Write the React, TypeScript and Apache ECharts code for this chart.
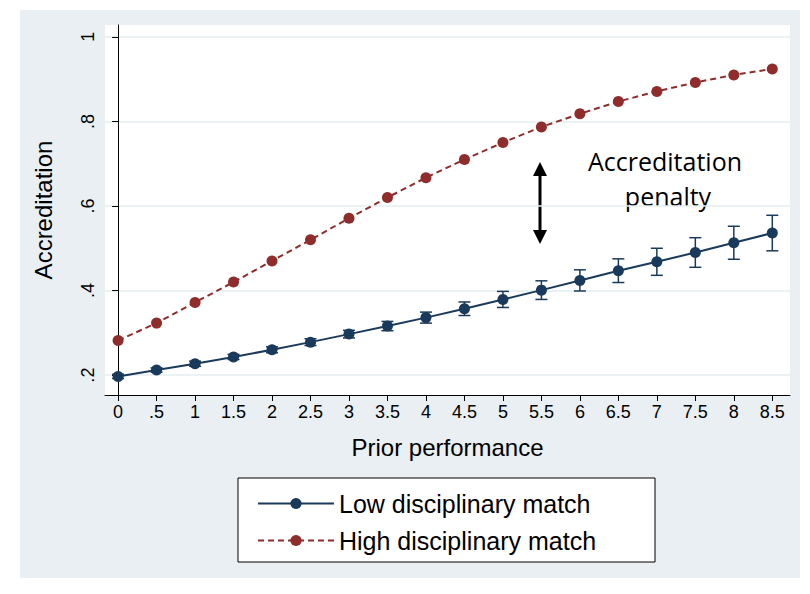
import React, { useEffect, useRef } from 'react';
import * as echarts from 'echarts';

const xValues = [0, 0.5, 1, 1.5, 2, 2.5, 3, 3.5, 4, 4.5, 5, 5.5, 6, 6.5, 7, 7.5, 8, 8.5];
const lowMatch = [0.197, 0.212, 0.227, 0.243, 0.26, 0.278, 0.297, 0.316, 0.336, 0.357, 0.379, 0.401, 0.424, 0.447, 0.468, 0.49, 0.513, 0.536];
const lowErr = [0.005, 0.005, 0.006, 0.006, 0.007, 0.008, 0.009, 0.011, 0.013, 0.016, 0.019, 0.022, 0.025, 0.028, 0.032, 0.035, 0.039, 0.042];
const highMatch = [0.282, 0.323, 0.372, 0.42, 0.47, 0.52, 0.571, 0.62, 0.667, 0.71, 0.75, 0.787, 0.818, 0.847, 0.871, 0.892, 0.91, 0.924];
const yTicks = [0.2, 0.4, 0.6, 0.8, 1];

const fmt = (v: number) => {
  const s = String(Math.round(v * 10) / 10);
  return s.startsWith('0.') ? s.slice(1) : s;
};

const App: React.FC = () => {
  const chartRef = useRef<HTMLDivElement | null>(null);

  useEffect(() => {
    if (!chartRef.current) return;
    const chart = echarts.init(chartRef.current, undefined, { renderer: 'svg' });
    const font = 'Liberation Sans, Arial, sans-serif';
    const blue = '#1a3a5c';
    const red = '#8f2d2d';

    chart.setOption({
      animation: false,
      textStyle: { fontFamily: font },
      graphic: [
        { type: 'rect', z: -10, shape: { x: 20, y: 10, width: 780, height: 568 }, style: { fill: '#e9eff3' } },
        { type: 'line', shape: { x1: 540, y1: 168, x2: 540, y2: 238 }, style: { stroke: '#000', lineWidth: 3 } },
        { type: 'polygon', shape: { points: [[533, 176], [540, 162], [547, 176]] }, style: { fill: '#000' } },
        { type: 'polygon', shape: { points: [[533, 230], [540, 244], [547, 230]] }, style: { fill: '#000' } },
        { type: 'text', x: 665, y: 161, style: { text: 'Accreditation', fontSize: 25, fontFamily: 'Open Sans, sans-serif', fill: '#000', align: 'center', verticalAlign: 'middle' } },
        { type: 'text', x: 668, y: 196, style: { text: 'penalty', fontSize: 25, fontFamily: 'Open Sans, sans-serif', fill: '#000', align: 'center', verticalAlign: 'middle' } },
        { type: 'rect', shape: { x: 238, y: 478, width: 417, height: 84 }, style: { fill: '#fff', stroke: '#000', lineWidth: 1 } },
      ],
      legend: {
        left: 252, top: 486, orient: 'vertical', itemGap: 12, itemWidth: 76, itemHeight: 14,
        textStyle: { fontSize: 25, color: '#000', fontFamily: font },
        data: ['Low disciplinary match', 'High disciplinary match'],
      },
      grid: { left: 105, right: 20, top: 25, bottom: 199, show: true, backgroundColor: '#fff', borderWidth: 0 },
      xAxis: {
        type: 'value', min: -0.17, max: 8.73,
        name: 'Prior performance', nameLocation: 'middle', nameGap: 40,
        nameTextStyle: { fontSize: 24, color: '#000' },
        axisLine: { show: true, lineStyle: { color: '#000' } },
        axisTick: { show: true, length: 6, lineStyle: { color: '#000' }, customValues: xValues },
        axisLabel: { fontSize: 18, color: '#000', customValues: xValues, formatter: fmt },
        splitLine: { show: false },
      },
      yAxis: {
        type: 'value', min: 0.153, max: 1.028,
        name: 'Accreditation', nameLocation: 'middle', nameGap: 50,
        nameTextStyle: { fontSize: 24, color: '#000' },
        axisLine: { show: true, lineStyle: { color: '#000' } },
        axisTick: { show: true, length: 6, lineStyle: { color: '#000' }, customValues: yTicks },
        axisLabel: { fontSize: 18, color: '#000', rotate: 90, customValues: yTicks, formatter: fmt },
        splitLine: { show: true, lineStyle: { color: '#e3eef1', width: 1.5 } },
      },
      series: [
        {
          name: 'Low disciplinary match', type: 'line', symbol: 'circle', symbolSize: 11,
          data: xValues.map((x, i) => [x, lowMatch[i]]),
          lineStyle: { color: blue, width: 2 }, itemStyle: { color: blue }, z: 3,
        },
        {
          name: 'Low disciplinary match', type: 'custom', z: 2,
          data: xValues.map((x, i) => [x, lowMatch[i] - lowErr[i], lowMatch[i] + lowErr[i]]),
          renderItem: (params: any, api: any) => {
            const x = api.value(0);
            const lo = api.coord([x, api.value(1)]);
            const hi = api.coord([x, api.value(2)]);
            const st = { stroke: blue, lineWidth: 1.5 };
            return {
              type: 'group',
              children: [
                { type: 'line', shape: { x1: lo[0], y1: lo[1], x2: hi[0], y2: hi[1] }, style: st },
                { type: 'line', shape: { x1: lo[0] - 6, y1: lo[1], x2: lo[0] + 6, y2: lo[1] }, style: st },
                { type: 'line', shape: { x1: hi[0] - 6, y1: hi[1], x2: hi[0] + 6, y2: hi[1] }, style: st },
              ],
            };
          },
        },
        {
          name: 'High disciplinary match', type: 'line', symbol: 'circle', symbolSize: 11,
          data: xValues.map((x, i) => [x, highMatch[i]]),
          lineStyle: { color: red, width: 2, type: [6, 4] }, itemStyle: { color: red },
        },
      ],
    });

    return () => chart.dispose();
  }, []);

  return <div ref={chartRef} style={{ position: 'absolute', left: 0, top: 0, width: 810, height: 594 }} />;
};

export default App;
